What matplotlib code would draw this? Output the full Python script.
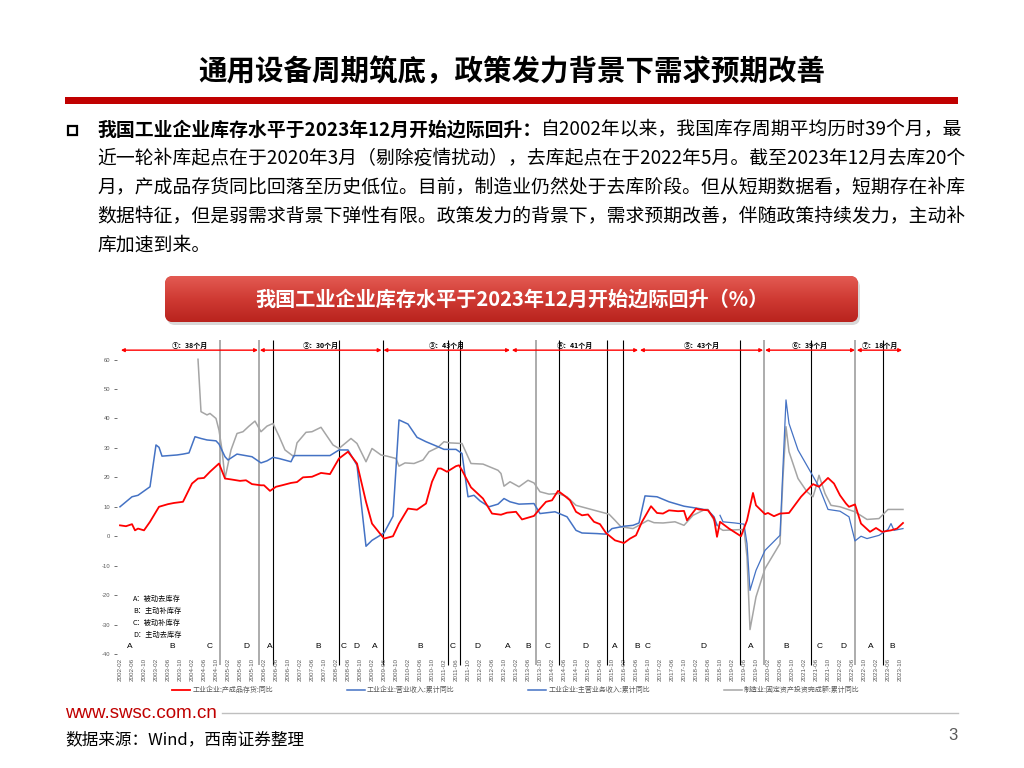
import matplotlib
matplotlib.use('Agg')
import matplotlib.pyplot as plt
from matplotlib.patches import FancyBboxPatch, Rectangle
from matplotlib.lines import Line2D
from matplotlib.colors import LinearSegmentedColormap
import numpy as np

plt.rcParams['font.family'] = ['Noto Sans CJK SC', 'DejaVu Sans']

# ---------------- data (x = months since 2002-02) ----------------
red_m = [0, 2, 4, 5, 6, 8, 10, 13, 16, 18, 21, 24, 26, 28, 30, 33, 35, 37, 40, 42, 44, 47, 48, 50, 52, 54, 57, 59,
         61, 64, 67, 70, 73, 76, 79, 82, 84, 88, 91, 93, 96, 99, 102, 104, 106, 107, 109, 112, 113, 114, 117, 121,
         124, 127, 129, 132, 134, 136, 138, 140, 142, 144, 146, 148, 150, 152, 154, 156, 158, 160, 162, 165, 168,
         170, 172, 174, 177, 179, 181, 183, 186, 188, 189, 192, 193, 196, 198, 199, 200, 203, 207, 209, 211, 212,
         215, 216, 218, 220, 223, 227, 231, 233, 236, 238, 240, 242, 243, 245, 247, 250, 252, 254, 257, 259, 261]
red_v = [3.7, 3.4, 4.1, 2.0, 2.6, 2.0, 4.9, 10.0, 10.9, 11.3, 11.7, 17.9, 19.6, 19.8, 21.9, 24.7, 19.6, 19.3, 18.8,
         19.0, 17.7, 17.3, 17.3, 15.4, 16.8, 17.3, 18.1, 18.4, 20.0, 20.2, 21.5, 21.1, 26.4, 28.7, 24.7, 11.7, 4.3,
         -0.8, 0.0, 4.3, 9.4, 9.0, 11.1, 18.5, 23.0, 23.0, 21.9, 23.8, 24.1, 22.4, 16.6, 12.8, 7.7, 7.3, 8.0, 8.3,
         5.7, 6.3, 6.9, 9.4, 11.7, 12.2, 15.4, 13.9, 12.2, 8.3, 7.1, 7.4, 4.9, 4.1, 1.1, -1.4, -2.3, -0.8, 0.3, 4.9,
         10.2, 7.9, 7.7, 8.8, 8.5, 8.6, 5.4, 9.4, 9.1, 8.8, 6.0, -0.2, 4.9, 2.6, 0.0, 5.4, 14.7, 10.5, 7.5, 7.9, 6.8,
         7.7, 7.9, 13.4, 17.7, 16.8, 19.8, 17.9, 13.9, 11.1, 10.0, 10.8, 4.3, 1.5, 2.8, 1.5, 2.0, 2.6, 4.5]

blue_main_m = [0, 4, 6, 10, 12, 13, 14, 19, 21, 23, 25, 27, 29, 32, 33, 35, 36, 39, 44, 47, 49, 51, 53, 57, 58, 70,
               73, 76, 79, 82, 84, 88, 91, 93, 96, 99, 102, 106, 108, 112, 114, 116, 118, 120, 123, 126, 128, 130,
               133, 138, 140, 145, 149, 152, 154, 159, 162, 164, 168, 171, 173, 175, 179, 183, 188, 193, 196, 198, 199]
blue_main_v = [10.0, 13.4, 13.9, 16.8, 31.0, 30.2, 27.2, 27.6, 27.9, 28.3, 33.8, 33.2, 32.7, 32.4, 31.3, 27.0, 25.9,
               27.9, 27.0, 24.9, 25.6, 26.8, 26.4, 25.3, 27.4, 27.4, 29.3, 29.3, 24.1, -3.4, -1.4, 1.1, 6.8, 39.5,
               38.1, 33.6, 32.1, 30.4, 29.5, 29.5, 28.1, 13.4, 13.9, 12.0, 10.0, 10.9, 12.8, 11.7, 10.9, 11.1, 7.7,
               8.3, 6.6, 2.0, 1.1, 0.9, 0.7, 2.6, 3.4, 3.7, 4.5, 13.7, 13.4, 11.7, 10.2, 9.4, 8.8, 6.6, 3.7]

blue_rev_m = [200, 201, 205, 208, 209, 210, 212, 215, 220, 221, 222, 223, 226, 231, 233, 236, 240, 243, 245, 247,
              249, 253, 256, 257, 258, 261]
blue_rev_v = [7.1, 4.9, 4.5, 4.1, -2.5, -18.4, -11.6, -4.8, 0.3, 23.6, 46.3, 38.3, 29.3, 20.4, 16.8, 9.1, 8.5, 6.6,
              -1.6, 0.0, -0.8, 0.3, 2.3, 4.3, 2.0, 2.6]

gray_m = [26, 27, 29, 30, 32, 33, 34, 35, 37, 39, 41, 43, 45, 47, 49, 51, 53, 55, 58, 59, 62, 64, 67, 68, 71, 73, 77,
          79, 82, 84, 87, 89, 92, 93, 95, 98, 101, 103, 106, 108, 110, 114, 117, 121, 126, 127, 128, 130, 133, 136,
          138, 140, 143, 146, 149, 152, 156, 160, 163, 165, 167, 171, 173, 176, 178, 181, 185, 188, 191, 195, 196,
          198, 200, 201, 208, 209, 210, 212, 215, 220, 221, 222, 223, 226, 229, 231, 232, 233, 235, 237, 240, 245,
          249, 253, 256, 261]
gray_v = [60.1, 42.3, 41.2, 41.7, 40.0, 36.0, 29.3, 19.6, 29.3, 34.9, 35.5, 37.4, 39.1, 35.5, 37.4, 38.3, 34.0, 29.3,
          27.0, 31.7, 35.3, 35.5, 37.0, 35.5, 31.0, 29.8, 33.2, 31.5, 25.3, 29.8, 27.6, 27.2, 26.4, 23.8, 24.9, 24.7,
          25.9, 28.7, 30.2, 32.1, 31.7, 31.5, 24.7, 24.5, 22.4, 21.3, 17.0, 18.5, 16.8, 19.0, 18.1, 15.1, 14.3, 14.5,
          13.4, 10.5, 9.4, 8.3, 7.5, 5.4, 3.2, 2.6, 3.7, 5.4, 4.6, 4.5, 4.9, 3.7, 7.1, 9.1, 9.1, 5.4, 2.6, 2.0, 2.3,
          -7.0, -31.7, -20.6, -11.0, -2.5, 20.2, 37.2, 28.7, 19.6, 15.1, 13.4, 16.8, 20.7, 14.5, 10.5, 10.0, 8.3, 5.7,
          6.0, 9.1, 9.1]

series_labels = ["工业企业:产成品存货:同比", "工业企业:营业收入:累计同比",
                 "工业企业:主营业务收入:累计同比", "制造业:固定资产投资完成额:累计同比"]

cycle_edges = [0, 46.3, 87.5, 130.3, 173, 214.7, 245.3, 261]
cycle_labels = ["①：38个月", "②：30个月", "③：43个月", "④：41个月", "⑤：43个月", "⑥：39个月", "⑦：18个月"]

phase_lines_black = [51.1, 73.1, 87.6, 109.4, 113.3, 146.2, 162.4, 167.8, 206.8, 230.4, 254.4]
phase_lines_gray = [33.3, 46.4, 138.6, 214.8, 245.1]

phase_letters = list("ABCDABCDABCDABCDABCDABCDAB")
phase_letter_m = [3.3, 17.3, 30, 42, 50, 66, 74.7, 78.7, 85, 100, 111, 119, 129.3, 136, 142.7, 155, 165, 172.3, 176,
                  194.3, 210.3, 222, 233.3, 241, 250.3, 257.3]

phase_legend = ["A：被动去库存", "B：主动补库存", "C：被动补库存", "D：主动去库存"]

y_ticks = list(range(-40, 61, 10))
x_tick_m = list(range(0, 261, 4))

title = "通用设备周期筑底，政策发力背景下需求预期改善"
body_lines = [
    [("我国工业企业库存水平于2023年12月开始边际回升：", 'bold'),
     ("自2002年以来，我国库存周期平均历时39个月，最", 'normal')],
    [("近一轮补库起点在于2020年3月（剔除疫情扰动），去库起点在于2022年5月。截至2023年12月去库20个", 'normal')],
    [("月，产成品存货同比回落至历史低位。目前，制造业仍然处于去库阶段。但从短期数据看，短期存在补库", 'normal')],
    [("数据特征，但是弱需求背景下弹性有限。政策发力的背景下，需求预期改善，伴随政策持续发力，主动补", 'normal')],
    [("库加速到来。", 'normal')],
]
banner_text = "我国工业企业库存水平于2023年12月开始边际回升（%）"
source_text = "数据来源：Wind，西南证券整理"
site_text = "www.swsc.com.cn"
page_no = "3"

RED = '#FF0000'
BLUE = '#4472C4'
GRAY = '#A5A5A5'
TXT_GRAY = '#595959'

# ---------------- figure ----------------
fig = plt.figure(figsize=(10.24, 7.68), dpi=100)
bg = fig.add_axes([0, 0, 1, 1], zorder=0)
bg.set_xlim(0, 1024)
bg.set_ylim(768, 0)
bg.axis('off')
renderer = fig.canvas.get_renderer()

# title
bg.text(512, 72, title, ha='center', va='center', fontsize=20.5, weight='bold', color='black')
bg.add_patch(Rectangle((65, 97), 893, 7, facecolor='#C00000', edgecolor='none'))

# bullet + body text
bg.add_patch(Rectangle((68, 125.5), 9, 9, fill=False, edgecolor='black', lw=1.6))
FS = 13.55


def text_width(s, weight):
    t = bg.text(0, 0, s, fontsize=FS, weight=weight)
    w = t.get_window_extent(renderer).width
    t.remove()
    return w


line_y = [130, 159, 188, 217, 245]
for segs, yy in zip(body_lines, line_y):
    x = 97
    for s, wgt in segs:
        bg.text(x, yy, s, ha='left', va='center', fontsize=FS, weight=wgt, color='black')
        x += text_width(s + '中', wgt) - text_width('中', wgt)

# banner
shadow = FancyBboxPatch((167, 279), 693, 46, boxstyle="round,pad=0,rounding_size=8",
                        facecolor='#9E9E9E', edgecolor='none', alpha=0.4)
bg.add_patch(shadow)
box = FancyBboxPatch((165, 276), 693, 46, boxstyle="round,pad=0,rounding_size=8",
                     facecolor='#C9302C', edgecolor='none')
bg.add_patch(box)
cmap = LinearSegmentedColormap.from_list('banner', ['#E35A52', '#CF3A33', '#B9231E'])
grad = np.linspace(0, 1, 64).reshape(-1, 1)
im = bg.imshow(grad, cmap=cmap, extent=[165, 858, 322, 276], aspect='auto', zorder=1.5)
im.set_clip_path(box)
bg.set_xlim(0, 1024)
bg.set_ylim(768, 0)
bg.text(512, 299, banner_text, ha='center', va='center', fontsize=14.5, weight='bold', color='white', zorder=3)

# footer
bg.text(65, 713, site_text, ha='left', va='center', fontsize=13.5, color='#C00000',
        family=['Liberation Sans', 'DejaVu Sans'])
bg.plot([222, 958], [713, 713], color='#BFBFBF', lw=1)
bg.text(65, 740, source_text, ha='left', va='center', fontsize=12, style='italic', color='black')
bg.text(958, 735, page_no, ha='right', va='center', fontsize=12, color=TXT_GRAY,
        family=['Liberation Sans', 'DejaVu Sans'])

# ---------------- chart ----------------
ax = fig.add_axes([117 / 1024, 1 - 654 / 768, 789 / 1024, (654 - 347.8) / 768], zorder=2)
ax.patch.set_alpha(0)
ax.set_xlim(-1, 262)
ax.set_ylim(-40, 64)
for sp in ax.spines.values():
    sp.set_visible(False)

ax.vlines(phase_lines_gray, -43.8, 66.5, colors='#A6A6A6', lw=1.3, clip_on=False, zorder=1)
ax.vlines(phase_lines_black, -43.8, 66.5, colors='black', lw=0.8, clip_on=False, zorder=1)

ax.plot(gray_m, gray_v, color=GRAY, lw=1.1, zorder=2)
ax.plot(blue_main_m, blue_main_v, color=BLUE, lw=1.1, zorder=3)
ax.plot(blue_rev_m, blue_rev_v, color=BLUE, lw=0.9, zorder=3)
ax.plot(red_m, red_v, color=RED, lw=1.3, zorder=4)

# cycle arrows
for i, lab in enumerate(cycle_labels):
    a, b = cycle_edges[i], cycle_edges[i + 1]
    ax.annotate('', xy=(b - 0.3, 63.2), xytext=(a + 0.3, 63.2), annotation_clip=False,
                arrowprops=dict(arrowstyle='<|-|>', color=RED, lw=1.0, shrinkA=0, shrinkB=0,
                                mutation_scale=5))
    ax.text((a + b) / 2, 64.9, lab, ha='center', va='center', fontsize=5, weight='bold',
            color='black', clip_on=False)

for lt, lm in zip(phase_letters, phase_letter_m):
    ax.text(lm, -37.6, lt, ha='center', va='center', fontsize=6, color='black',
            family=['Liberation Sans', 'DejaVu Sans'])

for i, s in enumerate(phase_legend):
    ax.text(4.3, -21.4 - 4.0 * i, s, ha='left', va='center', fontsize=5.2, color='black')

ax.set_yticks(y_ticks)
ax.set_yticklabels([str(v) for v in y_ticks])
ax.tick_params(axis='y', length=2, width=0.6, color=TXT_GRAY, labelsize=4.2, labelcolor=TXT_GRAY, pad=3)


def mlabel(m):
    k = 1 + m
    return f"{2002 + k // 12}-{k % 12 + 1:02d}"


ax.set_xticks(x_tick_m)
ax.set_xticklabels([mlabel(m) for m in x_tick_m], rotation=90)
ax.tick_params(axis='x', length=0, labelsize=4.5, labelcolor=TXT_GRAY, pad=3)
for t in ax.get_xticklabels() + ax.get_yticklabels():
    t.set_family(['Liberation Sans', 'DejaVu Sans'])

handles = [Line2D([], [], color=RED, lw=1.3), Line2D([], [], color=BLUE, lw=1.1),
           Line2D([], [], color=BLUE, lw=1.1), Line2D([], [], color=GRAY, lw=1.1)]
fig.legend(handles, series_labels, ncol=4, loc='center left', bbox_to_anchor=(172 / 1024, 1 - 690 / 768),
           frameon=False, fontsize=5, handlelength=2.6, handletextpad=0.3, columnspacing=10.6,
           borderpad=0, borderaxespad=0, labelcolor=TXT_GRAY)

fig.savefig('out.png', dpi=100)
